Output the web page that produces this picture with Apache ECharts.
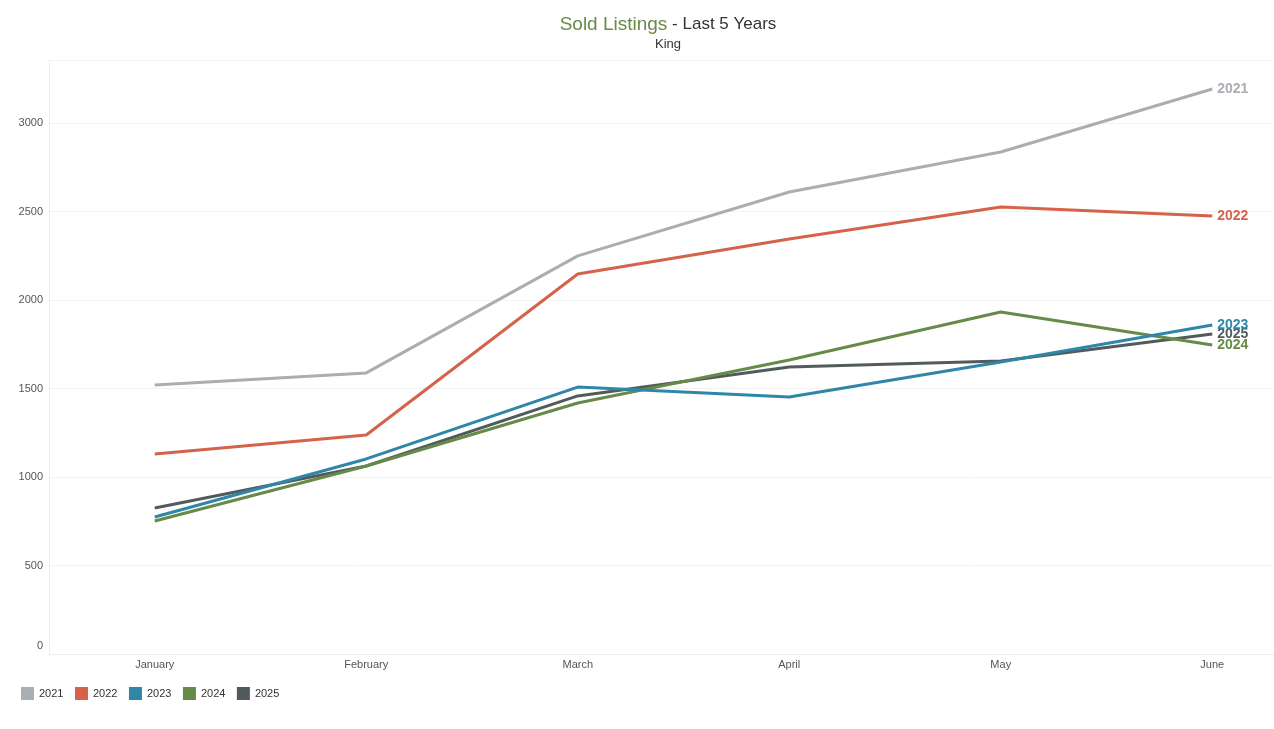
<!DOCTYPE html>
<html><head><meta charset="utf-8">
<script src="https://cdn.jsdelivr.net/npm/echarts@6/dist/echarts.min.js"></script>
<style>html,body{margin:0;padding:0;background:#fff}#c{width:1274px;height:729px}</style>
</head><body><div id="c"></div>
<script>
const categories = ['January','February','March','April','May','June'];
const years = ['2021','2022','2023','2024','2025'];
const s2021 = [1520, 1588, 2249, 2610, 2836, 3192];
const s2022 = [1130, 1237, 2147, 2345, 2525, 2475];
const s2023 = [774, 1102, 1508, 1452, 1650, 1859];
const s2024 = [751, 1062, 1418, 1661, 1932, 1746];
const s2025 = [825, 1062, 1458, 1621, 1655, 1808];
const colors = ['#a9aeb3', '#d4634a', '#2e86a8', '#668a48', '#525b5b'];
const seriesData = [s2021, s2022, s2023, s2024, s2025];

const chart = echarts.init(document.getElementById('c'));
const font = 'Liberation Sans, Arial, sans-serif';
chart.setOption({
  animation: false,
  textStyle: { fontFamily: font },
  title: {
    text: '{g|Sold Listings}{d| - Last 5 Years}',
    subtext: 'King',
    left: 663, textAlign: 'center', top: 10, itemGap: 4,
    textStyle: { fontWeight: 'normal', rich: {
      g: { color: '#668a48', fontSize: 19, fontWeight: 'normal', fontFamily: font },
      d: { color: '#333', fontSize: 17, fontWeight: 'normal', fontFamily: font }
    }},
    subtextStyle: { color: '#333', fontSize: 13, fontFamily: font }
  },
  legend: {
    left: 21, top: 687, padding: 0, itemWidth: 13, itemHeight: 13, itemGap: 11.5,
    icon: 'rect', data: years,
    textStyle: { fontSize: 11, color: '#333', fontFamily: font }
  },
  grid: { left: 49, top: 60, width: 1269, height: 594, containLabel: false, outerBoundsMode: 'none' },
  xAxis: {
    type: 'category', data: categories, boundaryGap: true,
    axisLine: { lineStyle: { color: '#eeeeee' } },
    axisTick: { show: true, length: 3, lineStyle: { color: '#eeeeee' } },
    axisLabel: { color: '#555', fontSize: 11, margin: 5 },
    splitLine: { show: false }
  },
  yAxis: {
    type: 'value', min: 0, max: 3356, interval: 500,
    axisLine: { show: true, lineStyle: { color: '#eeeeee' } },
    axisTick: { show: false },
    axisLabel: { color: '#555', fontSize: 11, margin: 6, showMaxLabel: false,
      formatter: v => v === 0 ? '{z|0}' : String(v),
      rich: { z: { padding: [0,0,16,0], fontSize: 11, color: '#555' } } },
    splitLine: { lineStyle: { color: '#f3f3f3' } }
  },
  series: years.map((y, i) => ({
    name: y, type: 'line', data: seriesData[i],
    showSymbol: false, symbol: 'none',
    color: colors[i],
    lineStyle: { width: 3, color: colors[i] },
    z: 10 - i,
    endLabel: { show: true, formatter: '{a}', color: colors[i], fontSize: 14,
      fontWeight: 'bold', distance: 5, fontFamily: font }
  }))
});
</script></body></html>
